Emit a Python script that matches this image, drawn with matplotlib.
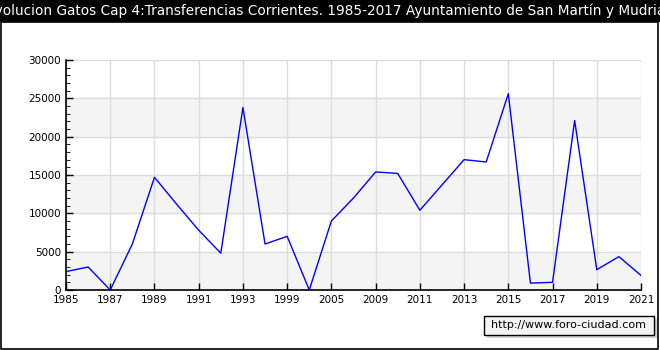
import matplotlib.pyplot as plt
from matplotlib.ticker import MultipleLocator

# datos
years = ['1985', '1986', '1987', '1988', '1989', '1990', '1991', '1992', '1993',
         '1998', '1999', '2000', '2005', '2007', '2009', '2010', '2011', '2012',
         '2013', '2014', '2015', '2016', '2017', '2018', '2019', '2020', '2021']
gastos = [2400, 3000, 0, 6000, 14700, 11200, 7800, 4800, 23800,
          6000, 7000, 0, 9000, 12000, 15400, 15200, 10400, 13700,
          17000, 16700, 25600, 900, 1000, 22100, 2650, 4350, 1900]
titulo = ('Evolucion Gatos Cap 4:Transferencias Corrientes. 1985-2017 '
          'Ayuntamiento de San Martín y Mudrián')
web = 'http://www.foro-ciudad.com'

fig = plt.figure(figsize=(6.6, 3.5), dpi=100)
fig.patch.set_facecolor('white')

# barra de titulo negra
fig.patches.append(plt.Rectangle((0, 1 - 22 / 350), 1, 22 / 350, transform=fig.transFigure,
                                 facecolor='black', edgecolor='none', zorder=0))
fig.text(0.5, 1 - 11 / 350, titulo, color='white', fontsize=9.8,
         ha='center', va='center')
# marco
fig.patches.append(plt.Rectangle((0.001, 0.003), 0.996, 1 - 22 / 350 - 0.003,
                                 transform=fig.transFigure, facecolor='none',
                                 edgecolor='black', linewidth=1.2, zorder=1))

ax = fig.add_axes([66 / 660, 1 - 290 / 350, 575 / 660, 230 / 350])
x = list(range(len(years)))

# bandas grises
for lo in (0, 10000, 20000):
    ax.axhspan(lo, lo + 5000, color='#f4f4f4', zorder=0)

ax.plot(x, gastos, color='#0000ff', linewidth=1, zorder=3)

ax.set_xlim(0, len(years) - 1)
ax.set_ylim(0, 30000)
ax.set_xticks(x[::2])
ax.set_xticklabels(years[::2])
ax.set_yticks(range(0, 30001, 5000))
ax.yaxis.set_minor_locator(MultipleLocator(1000))
ax.tick_params(axis='both', direction='in', labelsize=7.5, length=5, width=1)
ax.tick_params(axis='y', which='minor', direction='in', length=3)
ax.grid(True, color='#dcdcdc', linewidth=1, zorder=1)
ax.set_axisbelow(True)
for s in ('top', 'right'):
    ax.spines[s].set_visible(False)
for s in ('left', 'bottom'):
    ax.spines[s].set_linewidth(1.2)

# marca de agua con sombra
fig.patches.append(plt.Rectangle((487 / 660, 1 - 338 / 350), 170 / 660, 19 / 350,
                                 transform=fig.transFigure, facecolor='#d0d0d0',
                                 edgecolor='none', zorder=2))
fig.patches.append(plt.Rectangle((484 / 660, 1 - 335 / 350), 170 / 660, 19 / 350,
                                 transform=fig.transFigure, facecolor='#f4f4f4',
                                 edgecolor='black', linewidth=1, zorder=3))
fig.text(569 / 660, 1 - 325.5 / 350, web, fontsize=8, ha='center', va='center',
         zorder=4)

fig.savefig('out.png', dpi=100)
